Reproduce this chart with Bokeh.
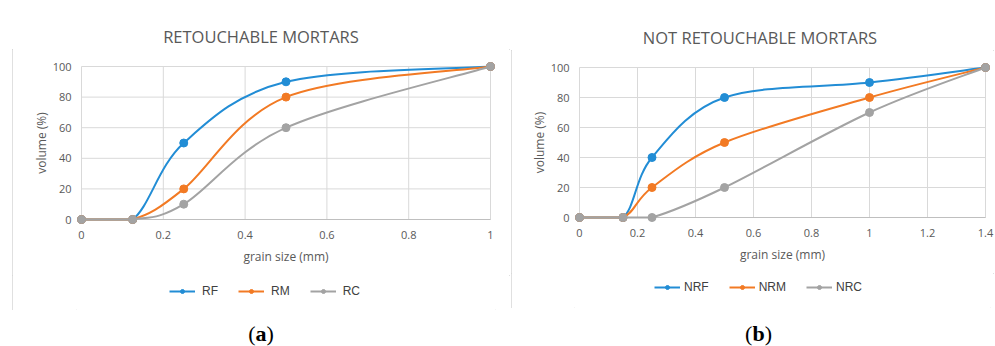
from bokeh.plotting import figure
from bokeh.models import Legend, LegendItem, FixedTicker, Div
from bokeh.layouts import row, column
from bokeh.embed import file_html
from bokeh.resources import INLINE

# ---------------- data ----------------
title_a = "RETOUCHABLE MORTARS"
grain_a = [0, 0.125, 0.25, 0.5, 1]
rf = [0, 0, 50, 90, 100]
rm = [0, 0, 20, 80, 100]
rc = [0, 0, 10, 60, 100]
names_a = ["RF", "RM", "RC"]
x_ticks_a = [0, 0.2, 0.4, 0.6, 0.8, 1]
x_labels_a = ["0", "0.2", "0.4", "0.6", "0.8", "1"]

title_b = "NOT RETOUCHABLE MORTARS"
grain_b = [0, 0.15, 0.25, 0.5, 1, 1.4]
nrf = [0, 0, 40, 80, 90, 100]
nrm = [0, 0, 20, 50, 80, 100]
nrc = [0, 0, 0, 20, 70, 100]
names_b = ["NRF", "NRM", "NRC"]
x_ticks_b = [0, 0.2, 0.4, 0.6, 0.8, 1, 1.2, 1.4]
x_labels_b = ["0", "0.2", "0.4", "0.6", "0.8", "1", "1.2", "1.4"]

y_ticks = [0, 20, 40, 60, 80, 100]
y_labels = ["0", "20", "40", "60", "80", "100"]

colors = ["#228dd5", "#f27a24", "#a3a3a3"]
TXT = "#595959"
GRID = "#d9d9d9"
FONT = "Open Sans"
PAD = 5  # px of breathing room around the data area so edge markers are not clipped
TITLE_H = 34


def smooth_segments(xs, ys):
    """Excel-like smoothed line: cubic Bezier segments between the data points."""
    n = len(xs)
    out = dict(x0=[], y0=[], x1=[], y1=[], cx0=[], cy0=[], cx1=[], cy1=[])
    for i in range(n - 1):
        xa, ya = (xs[i - 1], ys[i - 1]) if i > 0 else (xs[i], ys[i])
        xb, yb = xs[i], ys[i]
        xc, yc = xs[i + 1], ys[i + 1]
        xd, yd = (xs[i + 2], ys[i + 2]) if i + 2 < n else (xs[i + 1], ys[i + 1])
        c0x, c0y = xb + (xc - xa) / 6, yb + (yc - ya) / 6
        c1x, c1y = xc - (xd - xb) / 6, yc - (yd - yb) / 6
        lo, hi = min(yb, yc), max(yb, yc)
        c0y = min(max(c0y, lo), hi)
        c1y = min(max(c1y, lo), hi)
        c0x = min(max(c0x, xb), xc)
        c1x = min(max(c1x, xb), xc)
        out["x0"].append(xb); out["y0"].append(yb)
        out["x1"].append(xc); out["y1"].append(yc)
        out["cx0"].append(c0x); out["cy0"].append(c0y)
        out["cx1"].append(c1x); out["cy1"].append(c1y)
    return out


def make_panel(title, xs, series, names, x_ticks, x_labels, width, height,
               data_w, data_h, left, top, title_shift, leg_h, legend_xy, leg_standoff):
    xmax = x_ticks[-1]
    ymax = y_ticks[-1]
    px = PAD * xmax / data_w
    py = PAD * ymax / data_h
    fw, fh = data_w + 2 * PAD, data_h + 2 * PAD
    ph = height - leg_h - TITLE_H

    head = Div(text=title, width=width, height=TITLE_H, margin=0,
               styles={"text-align": "center", "font-family": f"'{FONT}'",
                       "font-size": "16.5px", "line-height": "20px", "color": TXT,
                       "padding-top": "12px", "padding-left": f"{title_shift}px",
                       "box-sizing": "border-box", "width": f"{width}px",
                       "background": "white", "white-space": "nowrap"})

    p = figure(width=width, height=ph, x_range=(-px, xmax + px), y_range=(-py, ymax + py),
               output_backend="svg", toolbar_location=None,
               min_border_left=left, min_border_right=width - left - fw,
               min_border_top=top, min_border_bottom=ph - top - fh)
    p.outline_line_color = None
    p.background_fill_color = "white"
    p.border_fill_color = "white"
    p.grid.visible = False

    for ax in (p.xaxis[0], p.yaxis[0]):
        ax.major_tick_line_color = None
        ax.minor_tick_line_color = None
        ax.major_tick_out = 0
        ax.major_tick_in = 0
        ax.minor_tick_out = 0
        ax.minor_tick_in = 0
        ax.axis_line_color = None
        ax.major_label_text_font = FONT
        ax.major_label_text_font_size = "11px"
        ax.major_label_text_color = TXT
        ax.axis_label_text_font = FONT
        ax.axis_label_text_font_size = "12px"
        ax.axis_label_text_font_style = "normal"
        ax.axis_label_text_color = TXT
    p.xaxis.major_label_standoff = 6
    p.xaxis.axis_label_standoff = 6
    p.yaxis.major_label_standoff = 5
    p.yaxis.axis_label_standoff = 0
    p.xaxis.ticker = FixedTicker(ticks=x_ticks)
    p.xaxis.major_label_overrides = {t: l for t, l in zip(x_ticks, x_labels)}
    p.yaxis.ticker = FixedTicker(ticks=y_ticks)
    p.yaxis.major_label_overrides = {t: l for t, l in zip(y_ticks, y_labels)}
    p.xaxis.axis_label = "grain size (mm)"
    p.yaxis.axis_label = "volume (%)"

    # gridlines limited to the data area, then the axis line at 0
    p.segment(x0=x_ticks, y0=[0] * len(x_ticks), x1=x_ticks, y1=[ymax] * len(x_ticks),
              line_color=GRID, line_width=1)
    p.segment(x0=[0] * len(y_ticks), y0=y_ticks, x1=[xmax] * len(y_ticks), y1=y_ticks,
              line_color=GRID, line_width=1)
    p.segment(x0=[0], y0=[0], x1=[xmax], y1=[0], line_color="#bfbfbf", line_width=1)

    for ys, col in zip(series, colors):
        seg = smooth_segments(xs, ys)
        p.bezier(x0=seg["x0"], y0=seg["y0"], x1=seg["x1"], y1=seg["y1"],
                 cx0=seg["cx0"], cy0=seg["cy0"], cx1=seg["cx1"], cy1=seg["cy1"],
                 line_color=col, line_width=2)
        p.scatter(xs, ys, marker="circle", size=8, fill_color=col, line_color=col)

    # legend strip at the bottom of the panel (its own renderers lie outside its view)
    lg = figure(width=width, height=leg_h, x_range=(-3, -2), y_range=(-3, -2),
                output_backend="svg", toolbar_location=None, min_border=0,
                x_axis_location=None, y_axis_location=None)
    lg.outline_line_color = None
    lg.grid.visible = False
    items = []
    for ys, name, col in zip(series, names, colors):
        lr = lg.line(xs, ys, line_color=col, line_width=2)
        sr = lg.scatter(xs, ys, marker="circle", size=8, fill_color=col, line_color=col)
        items.append(LegendItem(label=name, renderers=[lr, sr]))
    leg = Legend(items=items, orientation="horizontal", location=legend_xy,
                 border_line_color=None, background_fill_alpha=0,
                 glyph_width=26, glyph_height=10, label_standoff=leg_standoff, spacing=20,
                 label_width=0, padding=0, margin=0,
                 label_text_font="Liberation Sans", label_text_font_size="12px",
                 label_text_color="#404040")
    lg.add_layout(leg, "center")

    col = column(head, p, lg, spacing=0)
    col.styles = {"outline": "1px solid #d6d6d6", "outline-offset": "-1px"}
    return col


ca = make_panel(title_a, grain_a, [rf, rm, rc], names_a, x_ticks_a, x_labels_a,
                498, 295, 409, 153, 64, 12, 0, 35, (93, 12), 7)
cb = make_panel(title_b, grain_b, [nrf, nrm, nrc], names_b, x_ticks_b, x_labels_b,
                483, 292, 406, 150, 63, 12, 15, 35, (80, 14), 4)
ca.margin = (15, 0, 0, 12)
cb.margin = (16, 0, 0, 1)

lab_css = {"text-align": "center", "font-family": "'Liberation Serif'",
           "font-size": "22px", "line-height": "20px", "color": "#000",
           "width": "100%", "display": "block"}
da = Div(text="(<b>a</b>)", width=498, height=20, margin=(14, 0, 0, 12),
         styles=dict(lab_css))
db = Div(text="(<b>b</b>)", width=483, height=20, margin=(14, 0, 0, 1),
         styles=dict(lab_css, **{"padding-left": "12px", "box-sizing": "border-box"}))

layout = column(row(ca, cb), row(da, db))
open("out.html", "w").write(file_html(layout, INLINE))
